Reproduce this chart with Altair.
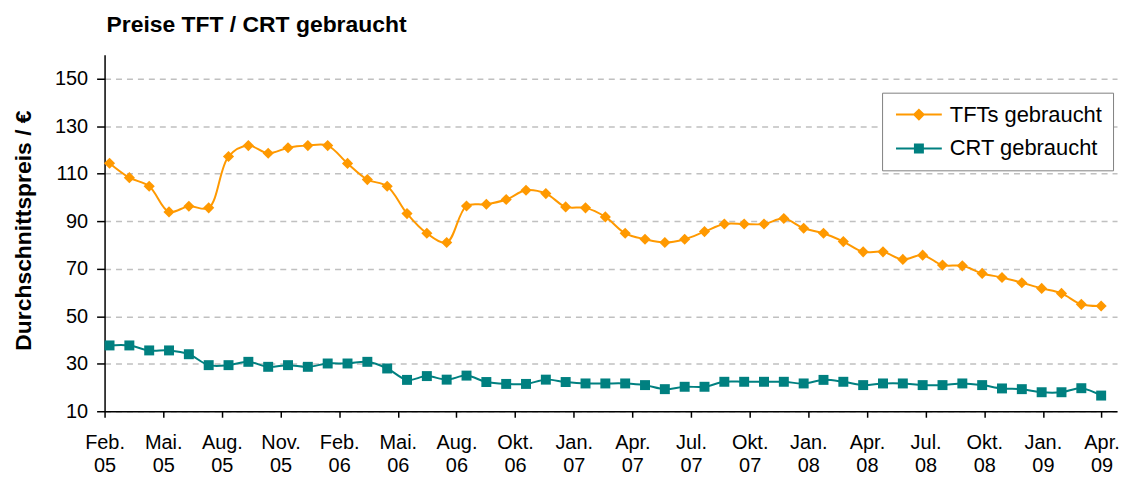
import altair as alt
import pandas as pd

# ---------------- data ----------------
series_names = ["TFTs gebraucht", "CRT gebraucht"]
series_colors = ["#FF9900", "#008080"]

tft = [114.4, 108.3, 104.7, 93.9, 96.3, 95.6, 117.2, 121.8, 118.6, 120.9,
       121.8, 121.8, 114.3, 107.5, 104.7, 93.2, 84.9, 81.0, 96.4, 97.1,
       99.1, 103.0, 101.6, 96.0, 95.6, 91.8, 84.9, 82.4, 81.0, 82.4,
       85.6, 88.8, 88.8, 88.8, 91.1, 87.0, 84.9, 81.4, 77.1, 77.1,
       73.9, 75.7, 71.5, 71.2, 68.0, 66.3, 64.1, 61.7, 59.6, 55.0,
       54.3]
crt = [37.7, 37.7, 35.6, 35.6, 34.0, 29.4, 29.4, 30.8, 28.7, 29.4,
       28.7, 30.1, 30.1, 30.8, 28.0, 23.2, 24.8, 23.3, 25.0, 22.3,
       21.5, 21.5, 23.3, 22.3, 21.7, 21.7, 21.7, 21.0, 19.3, 20.3,
       20.3, 22.4, 22.4, 22.4, 22.4, 21.7, 23.2, 22.4, 21.0, 21.7,
       21.7, 21.0, 21.0, 21.7, 21.0, 19.6, 19.3, 18.0, 18.0, 19.7,
       16.6]
tick_labels = ["Feb. 05", "Mai. 05", "Aug. 05", "Nov. 05", "Feb. 06", "Mai. 06",
               "Aug. 06", "Okt. 06", "Jan. 07", "Apr. 07", "Jul. 07", "Okt. 07",
               "Jan. 08", "Apr. 08", "Jul. 08", "Okt. 08", "Jan. 09", "Apr. 09"]
y_ticks = [10, 30, 50, 70, 90, 110, 130, 150]

n = len(tft)
df = pd.DataFrame({
    "Messung": list(range(n)) * 2,
    "Serie": [series_names[0]] * n + [series_names[1]] * n,
    "Preis": tft + crt,
})

# ---------------- layout ----------------
FONT = "Liberation Sans"
x_lo, x_hi = -0.25, 50.8
tick_start = -0.25
tick_step = 2.957
x_tick_vals = [round(tick_start + k * tick_step, 4) for k in range(len(tick_labels))]
labels_js = "[" + ",".join("'" + t + "'" for t in tick_labels) + "]"
label_expr = f"split({labels_js}[round((datum.value - ({tick_start})) / {tick_step})], ' ')"

x_axis = alt.Axis(
    values=x_tick_vals, labelExpr=label_expr, title=None, grid=False,
    domainColor="black", domainWidth=1.5, tickColor="black", tickWidth=1.5,
    tickSize=6, labelFont=FONT, labelFontSize=20, labelColor="black",
    labelBaseline="top", labelAlign="center", labelPadding=15,
    labelLineHeight=24, labelFlush=False, labelOverlap=False, labelBound=False,
)
y_axis = alt.Axis(
    values=y_ticks, title="Durchschnittspreis / €", grid=True,
    gridColor="#c0c0c0", gridDash=[6, 5], gridWidth=1.5,
    domainColor="black", domainWidth=1.5, tickColor="black", tickWidth=1.5,
    tickSize=8, labelPadding=9, labelFont=FONT, labelFontSize=20,
    labelColor="black", labelFlush=False,
    titleFont=FONT, titleFontSize=23, titleFontWeight="bold", titleColor="black",
    titleX=-81, titleY=176, titleAngle=270, titleAlign="center",
    titleBaseline="middle",
)

base = alt.Chart(df).encode(
    x=alt.X("Messung:Q", scale=alt.Scale(domain=[x_lo, x_hi], nice=False, zero=False), axis=x_axis),
    y=alt.Y("Preis:Q", scale=alt.Scale(domain=[10, 160], nice=False, zero=False), axis=y_axis),
)

f_tft = alt.datum.Serie == series_names[0]
f_crt = alt.datum.Serie == series_names[1]

line_tft = base.transform_filter(f_tft).mark_line(
    color=series_colors[0], strokeWidth=2, interpolate="catmull-rom")
line_crt = base.transform_filter(f_crt).mark_line(
    color=series_colors[1], strokeWidth=2, interpolate="catmull-rom")
pts_tft = base.transform_filter(f_tft).mark_point(
    shape="diamond", filled=True, size=125, color=series_colors[0], opacity=1)
pts_crt = base.transform_filter(f_crt).mark_point(
    shape="square", filled=True, size=100, color=series_colors[1], opacity=1)

diamond_sym = "M-4.6,0H4.6M0,-0.95L0.95,0L0,0.95L-0.95,0Z"
square_sym = "M-4.6,0H4.6M-0.8,-0.8H0.8V0.8H-0.8Z"

leg = alt.Legend(
    title=None, orient="none", legendX=781, legendY=38,
    labelFont=FONT, labelFontSize=22, labelColor="black",
    strokeColor="#808080", fillColor="white", padding=11, rowPadding=12,
    symbolSize=100, symbolStrokeWidth=2, symbolOffset=15, labelOffset=20,
    symbolOpacity=1,
)
legend_layer = base.mark_point(filled=True, size=0, strokeWidth=2, opacity=1).encode(
    fill=alt.Fill("Serie:N", scale=alt.Scale(domain=series_names, range=series_colors), legend=leg),
    stroke=alt.Stroke("Serie:N", scale=alt.Scale(domain=series_names, range=series_colors), legend=leg),
    shape=alt.Shape("Serie:N", scale=alt.Scale(domain=series_names, range=[diamond_sym, square_sym]), legend=leg),
)

chart = alt.layer(line_tft, line_crt, pts_tft, pts_crt, legend_layer).properties(
    width=1017, height=358,
    autosize=alt.AutoSizeParams(type="none"),
    padding={"left": 97, "top": 46, "right": 5, "bottom": 67},
    title=alt.TitleParams(
        "Preise TFT / CRT gebraucht", anchor="start", frame="group",
        font=FONT, fontSize=23, fontWeight="bold", color="black", offset=18, dx=2),
    background="white",
).configure_view(stroke=None)

chart.save("out.html", embed_options={"renderer": "svg", "actions": False})
